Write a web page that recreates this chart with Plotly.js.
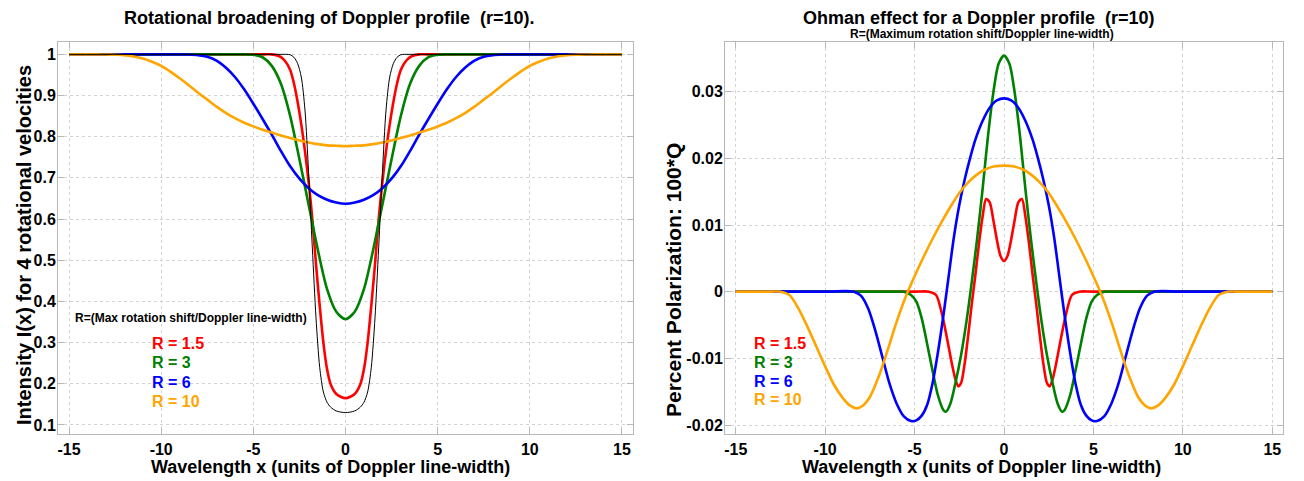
<!DOCTYPE html>
<html>
<head>
<meta charset="utf-8">
<script src="https://cdn.plot.ly/plotly-3.0.1.min.js"></script>
<style>
  html, body { margin: 0; padding: 0; background: #ffffff; }
  #chart { width: 1304px; height: 481px; }
</style>
</head>
<body>
<div id="chart"></div>
<script>
// ---------------- DATA ----------------
// Left panel: rotational broadening of a Doppler profile
const blackX = [-15, -10, -5, -3.4, -3.2, -3.0, -2.8, -2.6, -2.4, -2.2, -2.0, -1.8, -1.6, -1.4, -1.2, -1.0, -0.8, -0.5, 0, 0.5, 0.8, 1.0, 1.2, 1.4, 1.6, 1.8, 2.0, 2.2, 2.4, 2.6, 2.8, 3.0, 3.2, 3.4, 5, 10, 15];
const blackY = [1, 1, 1, 1, 1.0, 0.999, 0.993, 0.978, 0.945, 0.865, 0.711, 0.53, 0.36, 0.24, 0.18, 0.155, 0.143, 0.134, 0.130, 0.134, 0.143, 0.155, 0.18, 0.24, 0.36, 0.53, 0.711, 0.865, 0.945, 0.978, 0.993, 0.999, 1.0, 1, 1, 1, 1];

const r15X = [-15, -10, -5, -4.4, -4.0, -3.6, -3.3, -3.0, -2.8, -2.6, -2.4, -2.2, -2.0, -1.8, -1.6, -1.4, -1.2, -1.0, -0.8, -0.5, 0, 0.5, 0.8, 1.0, 1.2, 1.4, 1.6, 1.8, 2.0, 2.2, 2.4, 2.6, 2.8, 3.0, 3.3, 3.6, 4.0, 4.4, 5, 10, 15];
const r15Y = [1, 1, 1, 1, 1.0, 0.996, 0.985, 0.962, 0.93, 0.885, 0.83, 0.765, 0.69, 0.60, 0.49, 0.39, 0.30, 0.235, 0.198, 0.175, 0.165, 0.175, 0.198, 0.235, 0.30, 0.39, 0.49, 0.60, 0.69, 0.765, 0.83, 0.885, 0.93, 0.962, 0.985, 0.996, 1.0, 1, 1, 1, 1];

const r3X = [-15, -10, -6, -5.5, -5.0, -4.5, -4.0, -3.5, -3.0, -2.5, -2.0, -1.5, -1.0, -0.5, 0, 0.5, 1.0, 1.5, 2.0, 2.5, 3.0, 3.5, 4.0, 4.5, 5.0, 5.5, 6, 10, 15];
const r3Y = [1, 1, 1, 1.0, 0.999, 0.993, 0.972, 0.928, 0.85, 0.745, 0.635, 0.525, 0.43, 0.375, 0.357, 0.375, 0.43, 0.525, 0.635, 0.745, 0.85, 0.928, 0.972, 0.993, 0.999, 1.0, 1, 1, 1];

const r6X = [-15, -12, -9.5, -9, -8.5, -8, -7.5, -7, -6.5, -6, -5.5, -5, -4.5, -4, -3.5, -3, -2.5, -2, -1.5, -1, -0.5, 0, 0.5, 1, 1.5, 2, 2.5, 3, 3.5, 4, 4.5, 5, 5.5, 6, 6.5, 7, 7.5, 8, 8.5, 9, 9.5, 12, 15];
const r6Y = [1, 1, 1, 1.0, 0.9995, 0.998, 0.994, 0.985, 0.968, 0.945, 0.915, 0.88, 0.843, 0.805, 0.765, 0.728, 0.698, 0.675, 0.658, 0.647, 0.64, 0.637, 0.64, 0.647, 0.658, 0.675, 0.698, 0.728, 0.765, 0.805, 0.843, 0.88, 0.915, 0.945, 0.968, 0.985, 0.994, 0.998, 0.9995, 1.0, 1, 1, 1];

const r10X = [-15, -14, -13.5, -13, -12.5, -12, -11.5, -11, -10.5, -10, -9.5, -9, -8.5, -8, -7.5, -7, -6.5, -6, -5.5, -5, -4.5, -4, -3.5, -3, -2.5, -2, -1.5, -1, -0.5, 0, 0.5, 1, 1.5, 2, 2.5, 3, 3.5, 4, 4.5, 5, 5.5, 6, 6.5, 7, 7.5, 8, 8.5, 9, 9.5, 10, 10.5, 11, 11.5, 12, 12.5, 13, 13.5, 14, 15];
const r10Y = [1, 1, 1, 0.9995, 0.999, 0.998, 0.995, 0.99, 0.982, 0.972, 0.958, 0.942, 0.925, 0.907, 0.89, 0.873, 0.858, 0.845, 0.834, 0.825, 0.817, 0.81, 0.803, 0.797, 0.791, 0.786, 0.782, 0.779, 0.778, 0.777, 0.778, 0.779, 0.782, 0.786, 0.791, 0.797, 0.803, 0.81, 0.817, 0.825, 0.834, 0.845, 0.858, 0.873, 0.89, 0.907, 0.925, 0.942, 0.958, 0.972, 0.982, 0.99, 0.995, 0.998, 0.999, 0.9995, 1, 1, 1];

// Right panel: Ohman effect (percent polarization 100*Q)
const q15X = [-15, -10, -5, -4.2, -3.8, -3.5, -3.2, -2.9, -2.7, -2.55, -2.4, -2.2, -2.0, -1.8, -1.6, -1.4, -1.2, -1.0, -0.8, -0.6, -0.4, -0.2, 0, 0.2, 0.4, 0.6, 0.8, 1.0, 1.2, 1.4, 1.6, 1.8, 2.0, 2.2, 2.4, 2.55, 2.7, 2.9, 3.2, 3.5, 3.8, 4.2, 5, 10, 15];
const q15Y = [0, 0, 0, 0, -0.0005, -0.003, -0.0068, -0.011, -0.0133, -0.0142, -0.0137, -0.0108, -0.0065, -0.0018, 0.0025, 0.0072, 0.0112, 0.0139, 0.0134, 0.0108, 0.0078, 0.0054, 0.0046, 0.0054, 0.0078, 0.0108, 0.0134, 0.0139, 0.0112, 0.0072, 0.0025, -0.0018, -0.0065, -0.0108, -0.0137, -0.0142, -0.0133, -0.011, -0.0068, -0.003, -0.0005, 0, 0, 0, 0];

const q3X = [-15, -10, -6, -5.6, -5.2, -4.9, -4.6, -4.3, -4.0, -3.7, -3.4, -3.25, -3.0, -2.7, -2.4, -2.1, -1.8, -1.5, -1.2, -0.9, -0.6, -0.3, 0, 0.3, 0.6, 0.9, 1.2, 1.5, 1.8, 2.1, 2.4, 2.7, 3.0, 3.25, 3.4, 3.7, 4.0, 4.3, 4.6, 4.9, 5.2, 5.6, 6, 10, 15];
const q3Y = [0, 0, 0, 0, -0.0005, -0.0015, -0.004, -0.0078, -0.0118, -0.0155, -0.0177, -0.018, -0.0168, -0.0135, -0.0095, -0.0045, 0.0015, 0.008, 0.0153, 0.0232, 0.0298, 0.0342, 0.0354, 0.0342, 0.0298, 0.0232, 0.0153, 0.008, 0.0015, -0.0045, -0.0095, -0.0135, -0.0168, -0.018, -0.0177, -0.0155, -0.0118, -0.0078, -0.004, -0.0015, -0.0005, 0, 0, 0, 0];

const q6X = [-15, -10, -8.4, -8.0, -7.6, -7.2, -6.8, -6.4, -6.0, -5.6, -5.2, -4.9, -4.6, -4.3, -4.0, -3.7, -3.4, -3.1, -2.8, -2.5, -2.2, -1.9, -1.6, -1.2, -0.8, -0.4, 0, 0.4, 0.8, 1.2, 1.6, 1.9, 2.2, 2.5, 2.8, 3.1, 3.4, 3.7, 4.0, 4.3, 4.6, 4.9, 5.2, 5.6, 6.0, 6.4, 6.8, 7.2, 7.6, 8.0, 8.4, 10, 15];
const q6Y = [0, 0, 0, -0.0006, -0.0025, -0.0058, -0.0098, -0.0138, -0.0168, -0.0187, -0.0194, -0.0193, -0.0186, -0.017, -0.0138, -0.0092, -0.0038, 0.0022, 0.0082, 0.013, 0.0168, 0.02, 0.0228, 0.0256, 0.0276, 0.0287, 0.029, 0.0287, 0.0276, 0.0256, 0.0228, 0.02, 0.0168, 0.013, 0.0082, 0.0022, -0.0038, -0.0092, -0.0138, -0.017, -0.0186, -0.0193, -0.0194, -0.0187, -0.0168, -0.0138, -0.0098, -0.0058, -0.0025, -0.0006, 0, 0, 0];

const q10X = [-15, -13, -12.5, -12.0, -11.5, -11.0, -10.5, -10.0, -9.5, -9.0, -8.6, -8.25, -7.9, -7.5, -7.0, -6.5, -6.0, -5.5, -5.0, -4.5, -4.0, -3.5, -3.0, -2.5, -2.0, -1.5, -1.0, -0.5, 0, 0.5, 1.0, 1.5, 2.0, 2.5, 3.0, 3.5, 4.0, 4.5, 5.0, 5.5, 6.0, 6.5, 7.0, 7.5, 7.9, 8.25, 8.6, 9.0, 9.5, 10.0, 10.5, 11.0, 11.5, 12.0, 12.5, 13, 15];
const q10Y = [0, 0, 0, -0.0005, -0.0025, -0.0052, -0.0082, -0.0112, -0.014, -0.016, -0.0171, -0.0175, -0.0171, -0.0158, -0.0127, -0.0087, -0.0045, -0.0008, 0.0023, 0.0052, 0.0079, 0.0104, 0.0127, 0.0148, 0.0164, 0.0176, 0.0184, 0.0188, 0.0189, 0.0188, 0.0184, 0.0176, 0.0164, 0.0148, 0.0127, 0.0104, 0.0079, 0.0052, 0.0023, -0.0008, -0.0045, -0.0087, -0.0127, -0.0158, -0.0171, -0.0175, -0.0171, -0.016, -0.014, -0.0112, -0.0082, -0.0052, -0.0025, -0.0005, 0, 0, 0];

// Tick values / labels
const xTicks = [-15, -10, -5, 0, 5, 10, 15];
const xTickText = ['-15', '-10', '-5', '0', '5', '10', '15'];
const yTicksL = [0.1, 0.2, 0.3, 0.4, 0.5, 0.6, 0.7, 0.8, 0.9, 1];
const yTickTextL = ['0.1', '0.2', '0.3', '0.4', '0.5', '0.6', '0.7', '0.8', '0.9', '1'];
const yTicksR = [-0.02, -0.01, 0, 0.01, 0.02, 0.03];
const yTickTextR = ['-0.02', '-0.01', '0', '0.01', '0.02', '0.03'];

const legendLabels = ['R = 1.5', 'R = 3', 'R = 6', 'R = 10'];
const legendColors = ['#ff0000', '#008000', '#0000ff', '#ffa500'];

// ---------------- LAYOUT ----------------
const W = 1304, H = 481;
const FONT = 'Liberation Sans, Arial, Helvetica, sans-serif';
const px = X => X / W;
const py = Y => 1 - Y / H;

function line(x, y, color, width, xa, ya) {
  return { x: x, y: y, type: 'scatter', mode: 'lines', xaxis: xa, yaxis: ya,
    line: { color: color, width: width, shape: 'spline', smoothing: 0.8 },
    hoverinfo: 'skip', showlegend: false };
}

// drawing order: red, green, blue, orange, (black on top in left panel)
const traces = [
  line(r15X, r15Y, legendColors[0], 2.6, 'x', 'y'),
  line(r3X, r3Y, legendColors[1], 2.6, 'x', 'y'),
  line(r6X, r6Y, legendColors[2], 2.6, 'x', 'y'),
  line(r10X, r10Y, legendColors[3], 2.6, 'x', 'y'),
  line(blackX, blackY, '#000000', 1, 'x', 'y'),
  line(q15X, q15Y, legendColors[0], 2.6, 'x2', 'y2'),
  line(q3X, q3Y, legendColors[1], 2.6, 'x2', 'y2'),
  line(q6X, q6Y, legendColors[2], 2.6, 'x2', 'y2'),
  line(q10X, q10Y, legendColors[3], 2.6, 'x2', 'y2')
];

const tickFont = { family: FONT, size: 16, color: '#000000', weight: 'bold' };
const axisCommon = {
  showgrid: true, gridcolor: '#d4d4d4', griddash: 'dot', gridwidth: 1,
  showline: true, linecolor: '#b8b8b8', linewidth: 1, mirror: 'ticks',
  ticks: 'inside', ticklen: 6, tickcolor: '#b8b8b8', tickwidth: 1,
  zeroline: false, tickfont: tickFont, fixedrange: true
};

const annotations = [];
function addText(text, X, Y, size, color, xanchor, angle) {
  annotations.push({ text: text, x: px(X), y: py(Y), xref: 'paper', yref: 'paper',
    xanchor: xanchor || 'center', yanchor: 'middle', showarrow: false,
    textangle: angle || 0,
    font: { family: FONT, size: size, color: color || '#000000', weight: 'bold' } });
}
addText('Rotational broadening of Doppler profile  (r=10).', 329, 18, 18);
addText('Ohman effect for a Doppler profile  (r=10)', 979, 18, 18);
addText('R=(Maximum rotation shift/Doppler line-width)', 982, 34, 12);
addText('Wavelength x (units of Doppler line-width)', 330, 467, 18);
addText('Wavelength x (units of Doppler line-width)', 981, 467, 18);
addText('Intensity I(x) for 4 rotational velocities', 24, 245, 20, '#000000', 'center', -90);
addText('Percent Polarization: 100*Q', 673, 280, 21, '#000000', 'center', -90);
addText('R=(Max rotation shift/Doppler line-width)', 73, 318, 12, '#000000', 'left');
const legY = [343, 362, 382, 401];
const legYR = [343, 362, 381, 399];
for (let i = 0; i < legendLabels.length; i++) {
  addText(legendLabels[i], 150, legY[i], 16, legendColors[i], 'left');
  addText(legendLabels[i], 752, legYR[i], 16, legendColors[i], 'left');
}

const yExtra = { ticklabelstandoff: -2 };
const layout = {
  width: W, height: H,
  margin: { l: 0, r: 0, t: 0, b: 0 },
  paper_bgcolor: '#ffffff', plot_bgcolor: '#ffffff',
  showlegend: false,
  font: { family: FONT, color: '#000000' },
  xaxis: Object.assign({}, axisCommon, { domain: [px(58), px(633)], range: [-15.6, 15.6],
    tickmode: 'array', tickvals: xTicks, ticktext: xTickText, anchor: 'y', ticklabelstandoff: 1 }),
  yaxis: Object.assign({}, axisCommon, yExtra, { domain: [py(434), py(42)], range: [0.078, 1.03],
    tickmode: 'array', tickvals: yTicksL, ticktext: yTickTextL, anchor: 'x' }),
  xaxis2: Object.assign({}, axisCommon, { domain: [px(725), px(1283)], range: [-15.6, 15.6],
    tickmode: 'array', tickvals: xTicks, ticktext: xTickText, anchor: 'y2', ticklabelstandoff: 1 }),
  yaxis2: Object.assign({}, axisCommon, yExtra, { domain: [py(434), py(42)], range: [-0.02135, 0.03745],
    tickmode: 'array', tickvals: yTicksR, ticktext: yTickTextR, anchor: 'x2' }),
  annotations: annotations
};

Plotly.newPlot('chart', traces, layout, { staticPlot: true, displayModeBar: false });
</script>
</body>
</html>
